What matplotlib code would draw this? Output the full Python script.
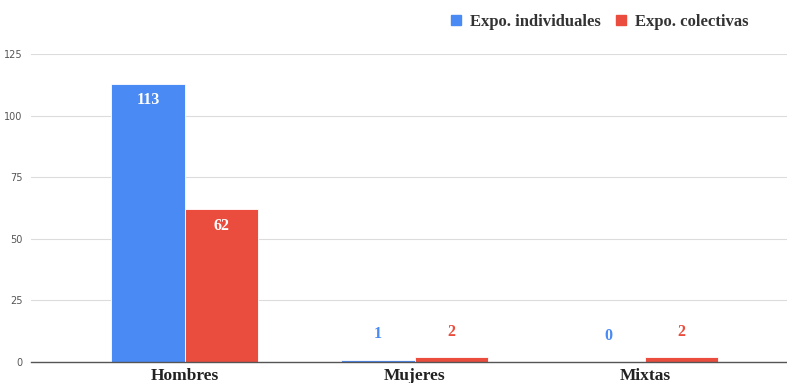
import numpy as np
import matplotlib
matplotlib.use("Agg")
import matplotlib.pyplot as plt
from matplotlib.patches import Patch

categorias = ["Hombres", "Mujeres", "Mixtas"]
individuales = [113, 1, 0]
colectivas = [62, 2, 2]
series = ["Expo. individuales", "Expo. colectivas"]
yticks = [0, 25, 50, 75, 100, 125]

azul = "#4a8af4"
rojo = "#ea4c3d"
serif = "Liberation Serif"

fig = plt.figure(figsize=(7.87, 3.83), dpi=100)
ax = fig.add_axes([31 / 787, 21 / 383, 756 / 787, 308 / 383])

x = np.arange(len(categorias))
w = 0.32
b1 = ax.bar(x - w / 2, individuales, w, color=azul, edgecolor="white", linewidth=0.6, zorder=3)
b2 = ax.bar(x + w / 2, colectivas, w, color=rojo, edgecolor="white", linewidth=0.6, zorder=3)

def etiquetar(bars, vals, color):
    for bar, v in zip(bars, vals):
        cx = bar.get_x() + bar.get_width() / 2
        if v > 20:
            ax.text(cx, v - 3.5, str(v), ha="center", va="top", color="white",
                    fontsize=11.5, fontweight="bold", family=serif, zorder=4)
        else:
            ax.text(cx, v + 7 if v > 0 else 7.5, str(v), ha="center", va="bottom", color=color,
                    fontsize=11.5, fontweight="bold", family=serif, zorder=4)

etiquetar(b1, individuales, azul)
etiquetar(b2, colectivas, rojo)

ax.set_ylim(0, 125)
ax.set_xlim(-0.669, 2.618)
ax.set_yticks(yticks)
ax.yaxis.grid(True, color="#dcdcdc", linewidth=0.8, zorder=0)
ax.tick_params(axis="y", length=0, labelsize=7, labelcolor="#555555", pad=6)
ax.tick_params(axis="x", length=0, pad=4)
ax.set_xticks(x)
ax.set_xticklabels(categorias, fontsize=12.5, fontweight="bold", family=serif, color="#222222")
for s in ["top", "right", "left"]:
    ax.spines[s].set_visible(False)
ax.spines["bottom"].set_color("#555555")
ax.spines["bottom"].set_linewidth(1)
ax.spines["bottom"].set_zorder(5)

handles = [Patch(color=azul, label=series[0]), Patch(color=rojo, label=series[1])]
fig.legend(handles=handles, loc="center", bbox_to_anchor=(600 / 787, 1 - 22 / 383), ncol=2,
           frameon=False, handlelength=0.6, handleheight=0.6, handletextpad=0.55, columnspacing=0.9,
           prop={"family": serif, "weight": "bold", "size": 12}, labelcolor="#333333")

fig.savefig("out.png", dpi=100, facecolor="white")
